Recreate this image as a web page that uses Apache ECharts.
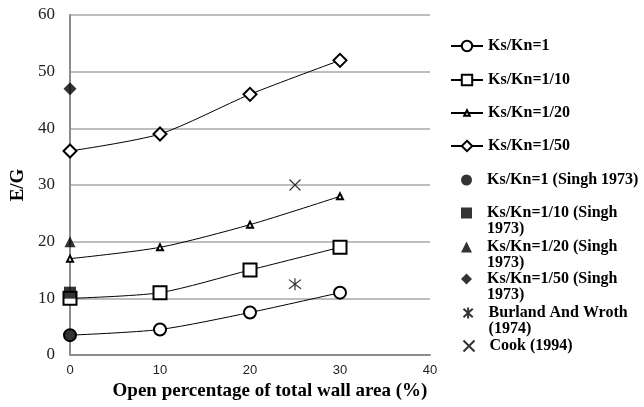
<!DOCTYPE html>
<html>
<head>
<meta charset="utf-8">
<script src="https://cdn.jsdelivr.net/npm/echarts@6/dist/echarts.min.js"></script>
<style>
  html, body { margin: 0; padding: 0; background: #fff; }
  #chart { width: 644px; height: 407px; }
</style>
</head>
<body>
<div id="chart"></div>
<script>
// open percentage values on the x axis
const openPct = [0, 10, 20, 30];

// model curves (E/G)
const ks1 = [3.5, 4.5, 7.5, 11];
const ks10 = [10, 11, 15, 19];
const ks20 = [17, 19, 23, 28];
const ks50 = [36, 39, 46, 52];

// single reference points [x, E/G]
const singh1 = [[0, 3.4]];
const singh10 = [[0, 11]];
const singh20 = [[0, 20]];
const singh50 = [[0, 47]];
const burland = [[25, 12.5]];
const cook = [[25, 30]];

const serif = '"Liberation Serif", "Times New Roman", serif';
const sans = '"Liberation Sans", Arial, sans-serif';

const pairs = (ys) => openPct.map((x, i) => [x, ys[i]]);

// legend labels wrap like the original (leading blank line keeps
// the first text line level with the icon)
const wrapped = {
  "Ks/Kn=1/10 (Singh 1973)": "\nKs/Kn=1/10 (Singh\n1973)",
  "Ks/Kn=1/20 (Singh 1973)": "\nKs/Kn=1/20 (Singh\n1973)",
  "Ks/Kn=1/50 (Singh 1973)": "\nKs/Kn=1/50 (Singh\n1973)",
  "Burland And Wroth (1974)": "\nBurland And Wroth\n(1974)",
};

const asterisk = "path://M5,0L5,10M0.8,1.2L9.2,8.8M9.2,1.2L0.8,8.8";
const cross = "path://M0,0L10,10M10,0L0,10";

const lineSeries = (name, data, symbol, size) => ({
  name,
  type: "line",
  data: pairs(data),
  smooth: 0.25,
  symbol,
  symbolSize: size,
  color: "#000",
  lineStyle: { color: "#000", width: 1 },
  itemStyle: { color: "#000", borderColor: "#000", borderWidth: 1 },
  z: 3,
});

const dotSeries = (name, data, symbol, size, stroke) => ({
  name,
  type: "scatter",
  data,
  symbol,
  symbolSize: size,
  color: "#000",
  itemStyle: stroke
    ? { color: "none", borderColor: "#000", borderWidth: 1.2 }
    : { color: "#000" },
  z: 4,
});

// legend rows: [name, centre y, isLine, icon height]
const legendRows = [
  ["Ks/Kn=1", 46, true, 13],
  ["Ks/Kn=1/10", 80, true, 13],
  ["Ks/Kn=1/20", 113, true, 7],
  ["Ks/Kn=1/50", 146, true, 13],
  ["Ks/Kn=1 (Singh 1973)", 180, false, 11],
  ["Ks/Kn=1/10 (Singh 1973)", 213, false, 11],
  ["Ks/Kn=1/20 (Singh 1973)", 247, false, 11],
  ["Ks/Kn=1/50 (Singh 1973)", 279, false, 11],
  ["Burland And Wroth (1974)", 313, false, 11],
  ["Cook (1994)", 346, false, 11],
];

const legends = legendRows.map(([name, cy, isLine, h]) => {
  const threeLines = !!wrapped[name];
  return {
    data: [name],
    orient: "vertical",
    left: isLine ? 450 : 461,
    top: cy - (threeLines ? 24 : 8),
    padding: 0,
    itemWidth: isLine ? 32 : 11,
    itemHeight: h,
    selectedMode: false,
    formatter: (n) => wrapped[n] || n,
    textStyle: {
      fontFamily: serif,
      fontWeight: "bold",
      fontSize: 16,
      color: "#000",
      lineHeight: 16,
      padding: [0, 0, 0, isLine ? 0 : 10],
    },
  };
});

const chart = echarts.init(document.getElementById("chart"), null, { renderer: "canvas" });

chart.setOption({
  animation: false,
  backgroundColor: "#fff",
  grid: { left: 70, right: 214, top: 15, bottom: 52 },
  legend: legends,
  xAxis: {
    type: "value",
    min: 0,
    max: 40,
    interval: 10,
    name: "Open percentage of total wall area (%)",
    nameLocation: "middle",
    nameGap: 27,
    nameTextStyle: {
      fontFamily: serif, fontWeight: "bold", fontSize: 19, color: "#000",
      padding: [0, 0, 0, 40],
    },
    axisLine: { show: true, onZero: false, lineStyle: { color: "#8c8c8c", width: 2 } },
    axisTick: { show: false },
    splitLine: { show: false },
    axisLabel: { fontFamily: sans, fontSize: 13, color: "#222", margin: 9 },
  },
  yAxis: {
    type: "value",
    min: 0,
    max: 60,
    interval: 10,
    name: "E/G",
    nameLocation: "middle",
    nameGap: 42,
    nameTextStyle: { fontFamily: serif, fontWeight: "bold", fontSize: 19, color: "#000" },
    axisLine: { show: true, lineStyle: { color: "#8c8c8c", width: 2 } },
    axisTick: { show: false },
    splitLine: { show: true, lineStyle: { color: "#a8a8a8", width: 1.5 } },
    axisLabel: { fontFamily: serif, fontSize: 17, color: "#222", margin: 15 },
  },
  series: [
    lineSeries("Ks/Kn=1", ks1, "emptyCircle", 12),
    lineSeries("Ks/Kn=1/10", ks10, "emptyRect", 13),
    lineSeries("Ks/Kn=1/20", ks20, "emptyTriangle", 6),
    lineSeries("Ks/Kn=1/50", ks50, "emptyDiamond", 13),
    dotSeries("Ks/Kn=1 (Singh 1973)", singh1, "circle", 12),
    dotSeries("Ks/Kn=1/10 (Singh 1973)", singh10, "rect", 12),
    dotSeries("Ks/Kn=1/20 (Singh 1973)", singh20, "triangle", 11),
    dotSeries("Ks/Kn=1/50 (Singh 1973)", singh50, "diamond", 13),
    dotSeries("Burland And Wroth (1974)", burland, asterisk, 12, true),
    dotSeries("Cook (1994)", cook, cross, 11, true),
  ],
});
</script>
</body>
</html>
